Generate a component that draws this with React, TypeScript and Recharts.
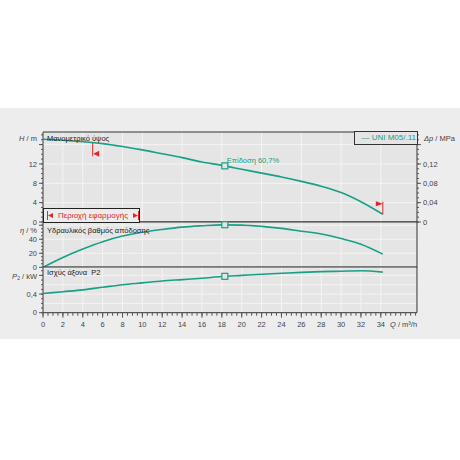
import React from 'react';
import {
  LineChart,
  Line,
  XAxis,
  YAxis,
  CartesianGrid,
  ReferenceDot,
  ReferenceLine,
  ReferenceArea,
} from 'recharts';

// ---------- data ----------
const flowQ = [0, 2, 4, 6, 8, 10, 12, 14, 16, 18, 20, 22, 24, 26, 28, 30, 32, 34.2];
const headH = [17.1, 16.9, 16.6, 16.2, 15.6, 14.9, 14.1, 13.3, 12.4, 11.7, 10.9, 10.1, 9.3, 8.4, 7.4, 6.1, 4.2, 1.6];
const efficiency = [0, 14, 26, 36.5, 44.5, 50, 54, 57.3, 59.2, 60.5, 60.2, 58.4, 55.5, 51.5, 47.5, 41, 33, 18.8];
const powerP2 = [0.41, 0.45, 0.49, 0.545, 0.6, 0.64, 0.68, 0.71, 0.74, 0.775, 0.8, 0.825, 0.845, 0.865, 0.88, 0.89, 0.9, 0.87];

const xMajorTicks = [0, 2, 4, 6, 8, 10, 12, 14, 16, 18, 20, 22, 24, 26, 28, 30, 32, 34];
const hMajorTicks = [0, 4, 8, 12, 16];
const hLabelTicks = [0, 4, 8, 12];
const dpMajorTicks = [0, 0.04, 0.08, 0.12, 0.16];
const dpLabelTicks = [0, 0.04, 0.08, 0.12];
const etaMajorTicks = [0, 20, 40, 60];
const etaLabelTicks = [0, 20, 40];
const pMajorTicks = [0, 0.4, 0.8];
const pLabelTicks = [0, 0.4];

const hGrid = [4, 8, 12, 16];
const etaGrid = [20, 40, 60];
const pGrid = [0.2, 0.4, 0.6, 0.8];

const opPoint = { q: 18.3, h: 11.6, eta: 60.7, p: 0.78, label: 'Επίδοση  60,7%' };
const rangeMin = { q: 5.0, hTop: 16.35, hBottom: 13.6, hFlag: 14.1 };
const rangeMax = { q: 34.2, hBottom: 1.6, hTop: 4.2, hFlag: 3.75 };

const xMax = 37.64;
const hMax = 18.6;
const dpMax = 0.186;
const etaMax = 64.6;
const pMax = 0.98;

const minorSteps = (max: number, step: number) => {
  const out: number[] = [];
  for (let i = 0; i * step <= max + 1e-9; i++) out.push(+(i * step).toFixed(4));
  return out;
};
const xAllTicks = minorSteps(37.5, 0.5);
const hAllTicks = minorSteps(18, 1);
const dpAllTicks = minorSteps(0.18, 0.01);
const etaAllTicks = minorSteps(60, 5);
const pAllTicks = minorSteps(0.9, 0.1);

const rows = flowQ.map((q, i) => ({ q, h: headH[i], eta: efficiency[i], p: powerP2[i] }));

// ---------- styles ----------
const TEAL = '#17a085';
const RED = '#e3262d';
const AX = '#555';
const FONT = '"Liberation Sans", Arial, sans-serif';
const PLOT_BG = '#e5e5e5';
const GRID = '#f4f4f4';

const has = (arr: number[], v: number) => arr.some((m) => Math.abs(m - v) < 1e-6);
const fmt = (v: number) => String(+v.toFixed(3)).replace('.', ',');

function LeftTick(props: any) {
  const { x, y, payload, majors, labels } = props;
  const v = payload.value;
  return (
    <g>
      {has(majors, v) && <line x1={x + 1} x2={x + 5} y1={y} y2={y} stroke={AX} strokeWidth={1} />}
      {has(labels, v) && (
        <text x={x - 1} y={y + 2.7} textAnchor="end" fontSize={7.5} fill="#444" fontFamily={FONT}>
          {fmt(v)}
        </text>
      )}
    </g>
  );
}

function RightTick(props: any) {
  const { x, y, payload, majors, labels } = props;
  const v = payload.value;
  return (
    <g>
      {has(majors, v) && <line x1={x - 5} x2={x - 1} y1={y} y2={y} stroke={AX} strokeWidth={1} />}
      {has(labels, v) && (
        <text x={x + 1} y={y + 2.7} textAnchor="start" fontSize={7.5} fill="#444" fontFamily={FONT}>
          {fmt(v)}
        </text>
      )}
    </g>
  );
}

function BottomTick(props: any) {
  const { x, y, payload, majors } = props;
  const v = payload.value;
  return (
    <g>
      {has(majors, v) && <line x1={x} x2={x} y1={y - 6} y2={y - 1} stroke={AX} strokeWidth={1} />}
      {has(majors, v) && (
        <text x={x} y={y + 8.5} textAnchor="middle" fontSize={7.5} fill="#444" fontFamily={FONT}>
          {fmt(v)}
        </text>
      )}
    </g>
  );
}

const OpSquare = (props: any) => {
  const { cx, cy, label } = props;
  return (
    <g>
      <rect x={cx - 3} y={cy - 3} width={6} height={6} fill={PLOT_BG} stroke={TEAL} strokeWidth={1.2} />
      {label && (
        <text x={cx + 2} y={cy - 2.5} fontSize={7.5} fill={TEAL} fontFamily={FONT}>
          {label}
        </text>
      )}
    </g>
  );
};

const FlagLeft = (props: any) => {
  const { cx, cy } = props;
  return <polygon points={`${cx + 0.5},${cy} ${cx + 6.5},${cy - 3} ${cx + 6.5},${cy + 3}`} fill={RED} />;
};
const FlagRight = (props: any) => {
  const { cx, cy } = props;
  return <polygon points={`${cx},${cy} ${cx - 7},${cy - 2.5} ${cx - 7},${cy + 2.5}`} fill={RED} />;
};

const lineProps = {
  type: 'monotone' as const,
  dot: false,
  stroke: TEAL,
  strokeWidth: 1.6,
  isAnimationActive: false,
  activeDot: false,
};

const abs = (left: number, top: number, extra: any = {}) => ({
  position: 'absolute' as const,
  left,
  top,
  fontFamily: FONT,
  fontSize: 7.5,
  lineHeight: '10px',
  whiteSpace: 'nowrap' as const,
  ...extra,
});

export default function App() {
  return (
    <div style={{ position: 'absolute', left: 0, top: 0, width: 460, height: 460, background: '#fff', overflow: 'hidden', fontFamily: FONT }}>
      <div style={{ position: 'absolute', left: 0, top: 108, width: 460, height: 231, background: '#ededed' }} />

      {/* Top panel: head */}
      <div style={{ position: 'absolute', left: 0, top: 122 }}>
        <LineChart width={460} height={110} data={rows} margin={{ top: 10, right: 0, bottom: 10, left: 0 }}>
          <CartesianGrid fill={PLOT_BG} stroke={GRID} verticalValues={xMajorTicks} horizontalValues={hGrid} yAxisId="h" />
          <XAxis dataKey="q" type="number" domain={[0, xMax]} hide allowDataOverflow />
          <YAxis
            yAxisId="h"
            width={43}
            domain={[0, hMax]}
            type="number"
            ticks={hAllTicks}
            interval={0}
            tickSize={2}
            tickMargin={3}
            axisLine={false}
            tickLine={{ stroke: AX }}
            tick={<LeftTick majors={hMajorTicks} labels={hLabelTicks} />}
            allowDataOverflow
          />
          <YAxis
            yAxisId="dp"
            orientation="right"
            width={43}
            domain={[0, dpMax]}
            type="number"
            ticks={dpAllTicks}
            interval={0}
            tickSize={2}
            tickMargin={3}
            axisLine={false}
            tickLine={{ stroke: AX }}
            tick={<RightTick majors={dpMajorTicks} labels={dpLabelTicks} />}
            allowDataOverflow
          />
          <ReferenceArea yAxisId="h" x1={0} x2={xMax} y1={0} y2={hMax} fill="none" stroke="#333" strokeWidth={1} />
          <Line {...lineProps} yAxisId="h" dataKey="h" />
          <ReferenceLine
            yAxisId="h"
            segment={[{ x: rangeMin.q, y: rangeMin.hTop }, { x: rangeMin.q, y: rangeMin.hBottom }]}
            stroke={RED}
            strokeWidth={1}
          />
          <ReferenceDot yAxisId="h" x={rangeMin.q} y={rangeMin.hFlag} shape={<FlagLeft />} />
          <ReferenceLine
            yAxisId="h"
            segment={[{ x: rangeMax.q, y: rangeMax.hBottom }, { x: rangeMax.q, y: rangeMax.hTop }]}
            stroke={RED}
            strokeWidth={1}
          />
          <ReferenceDot yAxisId="h" x={rangeMax.q} y={rangeMax.hFlag} shape={<FlagRight />} />
          <ReferenceDot yAxisId="h" x={opPoint.q} y={opPoint.h} shape={<OpSquare label={opPoint.label} />} />
        </LineChart>
      </div>

      {/* Middle panel: efficiency */}
      <div style={{ position: 'absolute', left: 0, top: 212 }}>
        <LineChart width={460} height={65.3} data={rows} margin={{ top: 10, right: 43, bottom: 10, left: 0 }}>
          <CartesianGrid fill={PLOT_BG} stroke={GRID} verticalValues={xMajorTicks} horizontalValues={etaGrid} />
          <XAxis dataKey="q" type="number" domain={[0, xMax]} hide allowDataOverflow />
          <YAxis
            width={43}
            domain={[0, etaMax]}
            type="number"
            ticks={etaAllTicks}
            interval={0}
            tickSize={2}
            tickMargin={3}
            axisLine={false}
            tickLine={{ stroke: AX }}
            tick={<LeftTick majors={etaMajorTicks} labels={etaLabelTicks} />}
            allowDataOverflow
          />
          <ReferenceArea x1={0} x2={xMax} y1={0} y2={etaMax} fill="none" stroke="#333" strokeWidth={1} />
          <Line {...lineProps} dataKey="eta" />
          <ReferenceDot x={opPoint.q} y={opPoint.eta} shape={<OpSquare />} />
        </LineChart>
      </div>

      {/* Bottom panel: power */}
      <div style={{ position: 'absolute', left: 0, top: 257.3 }}>
        <LineChart width={460} height={83.7} data={rows} margin={{ top: 10, right: 43, bottom: 5, left: 0 }}>
          <CartesianGrid fill={PLOT_BG} stroke={GRID} verticalValues={xMajorTicks} horizontalValues={pGrid} />
          <XAxis
            dataKey="q"
            type="number"
            domain={[0, xMax]}
            ticks={xAllTicks}
            interval={0}
            height={23}
            tickSize={3}
            tickMargin={3}
            axisLine={false}
            tickLine={{ stroke: AX }}
            tick={<BottomTick majors={xMajorTicks} />}
            allowDataOverflow
          />
          <YAxis
            width={43}
            domain={[0, pMax]}
            type="number"
            ticks={pAllTicks}
            interval={0}
            tickSize={2}
            tickMargin={3}
            axisLine={false}
            tickLine={{ stroke: AX }}
            tick={<LeftTick majors={pMajorTicks} labels={pLabelTicks} />}
            allowDataOverflow
          />
          <ReferenceArea x1={0} x2={xMax} y1={0} y2={pMax} fill="none" stroke="#333" strokeWidth={1} />
          <Line {...lineProps} dataKey="p" />
          <ReferenceDot x={opPoint.q} y={opPoint.p} shape={<OpSquare />} />
        </LineChart>
      </div>

      {/* axis titles */}
      <div style={abs(0, 134, { width: 37, textAlign: 'right', color: '#444' })}>
        <i>H</i> / m
      </div>
      <div style={abs(0, 225.7, { width: 37, textAlign: 'right', color: '#444' })}>
        <i>η</i> / %
      </div>
      <div style={abs(0, 271.5, { width: 37, height: 9, lineHeight: '9px', textAlign: 'right', color: '#444' })}>
        <i>P</i>
        <span style={{ fontSize: 5, lineHeight: 0, verticalAlign: '-1px' }}>2</span> / kW
      </div>
      <div style={abs(424, 134, { color: '#444' })}>
        <i>Δp</i> / MPa
      </div>
      <div style={abs(390, 320, { color: '#444' })}>
        <i>Q</i> / m³/h
      </div>

      {/* panel titles */}
      <div style={abs(47, 134, { color: '#222' })}>Μανομετρικό ύψος</div>
      <div style={abs(47, 225.7, { color: '#222' })}>Υδραυλικός βαθμός απόδοσης</div>
      <div style={abs(47, 268.3, { color: '#222' })}>Ισχύς άξονα&nbsp;&nbsp;P2</div>

      {/* legend */}
      <div
        style={abs(354, 131, {
          width: 61,
          height: 12,
          border: '1px solid #333',
          background: PLOT_BG,
          color: TEAL,
          fontSize: 8,
          lineHeight: '12px',
          textAlign: 'right',
          paddingRight: 1,
        })}
      >
        — UNI M05/.11
      </div>

      {/* operating range box */}
      <div
        style={abs(43, 207.7, {
          width: 95,
          height: 13,
          border: '1px solid #222',
          background: '#ececec',
          color: RED,
          fontSize: 8,
          lineHeight: '13px',
          display: 'flex',
          alignItems: 'center',
        })}
      >
        <svg width={10} height={9} style={{ marginLeft: 3, marginRight: 2 }}>
          <line x1={0.5} x2={0.5} y1={0} y2={9} stroke={RED} strokeWidth={1} />
          <polygon points="1,4.5 6,2 6,7" fill={RED} />
        </svg>
        <span>Περιοχή εφαρμογής</span>
        <svg width={10} height={9} style={{ marginLeft: 2 }}>
          <polygon points="8,4.5 3,2 3,7" fill={RED} />
          <line x1={8.5} x2={8.5} y1={0} y2={9} stroke={RED} strokeWidth={1} />
        </svg>
      </div>
    </div>
  );
}
